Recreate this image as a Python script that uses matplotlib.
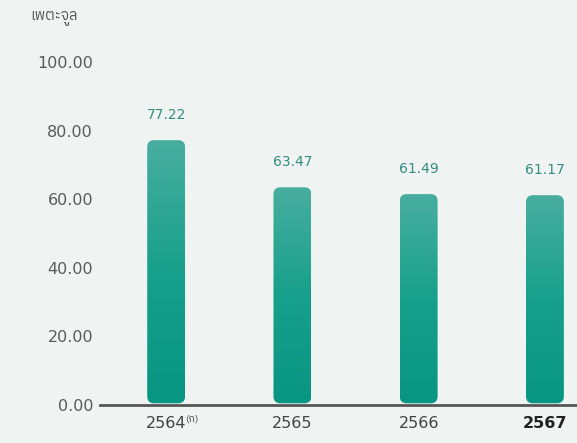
import numpy as np
import matplotlib
matplotlib.use("Agg")
import matplotlib.pyplot as plt
from matplotlib import font_manager
from matplotlib.patches import FancyBboxPatch
from matplotlib.colors import LinearSegmentedColormap

years = ["2564", "2565", "2566", "2567"]
values = [77.22, 63.47, 61.49, 61.17]
yticks = [0, 20, 40, 60, 80, 100]
unit_label = "เพตะจูล"
note_mark = "(ก)"

# pick up any installed font with Thai glyphs
thai_fonts = sorted(set(f.name for f in font_manager.fontManager.ttflist if "thai" in f.name.lower()))
plt.rcParams["font.family"] = ["DejaVu Sans"] + thai_fonts
thai_family = thai_fonts + ["DejaVu Sans"]

bg = "#eff3f2"
fig = plt.figure(figsize=(5.77, 4.43), dpi=100, facecolor=bg)
ax = fig.add_axes([100 / 577, 38 / 443, 477 / 577, 343 / 443])
ax.set_facecolor(bg)

cmap = LinearSegmentedColormap.from_list("teal", ["#079682", "#17a08b", "#48ae9f"])
grad = np.linspace(0, 1, 256).reshape(-1, 1)
w = 0.30
x = np.arange(len(values))
for xi, v in zip(x, values):
    p = FancyBboxPatch((xi - w / 2, 0.5), w, v - 0.5,
                       boxstyle="round,pad=0,rounding_size=0.055",
                       mutation_aspect=36.7, linewidth=0, facecolor="none")
    ax.add_patch(p)
    im = ax.imshow(grad, extent=(xi - w / 2, xi + w / 2, 0, v), origin="lower",
                   cmap=cmap, aspect="auto", zorder=2)
    im.set_clip_path(p)
    ax.annotate(f"{v:.2f}", (xi, v), xytext=(0, 13), textcoords="offset points",
                ha="center", va="bottom", fontsize=10, color="#358c82")

ax.set_xlim(-0.524, 3.254)
ax.set_ylim(0, 100)

ax.set_yticks(yticks)
ax.set_yticklabels([f"{t:.2f}" for t in yticks], fontsize=11.5, color="#5a5a5a")
ax.set_xticks(x)
labels = ax.set_xticklabels(years, fontsize=11.5, color="#444444")
labels[-1].set_fontweight("bold")
labels[-1].set_color("#222222")
ax.tick_params(axis="y", length=0, pad=5)
ax.tick_params(axis="x", length=0, pad=8)

# superscript note on the first year
ax.annotate(note_mark, (0, 0), xytext=(13.6, -10), textcoords="offset points",
            ha="left", va="center", fontsize=7.5, color="#444444", family=thai_family,
            annotation_clip=False)

for s in ["top", "right", "left"]:
    ax.spines[s].set_visible(False)
ax.spines["bottom"].set_color("#555555")
ax.spines["bottom"].set_linewidth(2)
ax.spines["bottom"].set_zorder(3)

fig.text(30 / 577, 1 - 18 / 443, unit_label, fontsize=10.5, color="#555555",
         va="center", family=thai_family)

fig.savefig("out.png", dpi=100, facecolor=bg)
